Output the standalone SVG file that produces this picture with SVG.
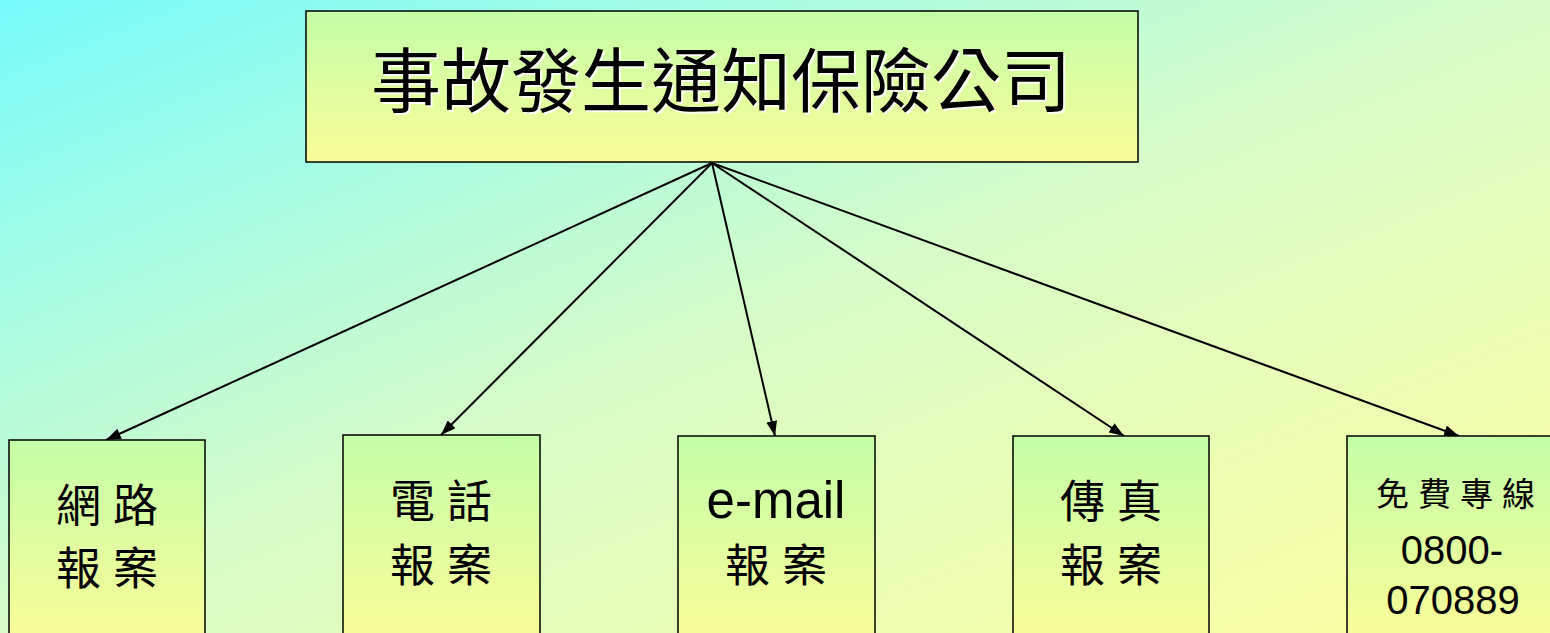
<svg xmlns="http://www.w3.org/2000/svg" width="1550" height="633" viewBox="0 0 1550 633">
<defs>
<linearGradient id="bg" x1="0" y1="0" x2="1" y2="1">
<stop offset="0" stop-color="#78fcfc"/>
<stop offset="0.5" stop-color="#d8fcc8"/>
<stop offset="1" stop-color="#ffffa0"/>
</linearGradient>
<linearGradient id="box" x1="0" y1="0" x2="0" y2="1">
<stop offset="0" stop-color="#c4ffa8"/>
<stop offset="1" stop-color="#fafc98"/>
</linearGradient>
<marker id="ah" markerWidth="15" markerHeight="11" refX="15" refY="5.5" orient="auto" markerUnits="userSpaceOnUse">
<path d="M0,0 L15,5.5 L0,11 Z" fill="#000"/>
</marker>
<style>
.node{fill:url(#box);stroke:#000;stroke-width:1.5}
.cjk{font-family:"Noto Sans CJK TC","Noto Sans CJK SC",sans-serif;fill:#000;text-anchor:middle}
.lat{font-family:"Liberation Sans",Arial,sans-serif;fill:#000;text-anchor:middle}
.conn{stroke:#000;stroke-width:2;fill:none;marker-end:url(#ah)}
</style>
</defs>
<rect width="1550" height="633" fill="url(#bg)"/>
<g id="connectors">
<line class="conn" x1="712" y1="163" x2="106" y2="440"/>
<line class="conn" x1="712" y1="163" x2="441" y2="435"/>
<line class="conn" x1="712" y1="163" x2="775" y2="436"/>
<line class="conn" x1="712" y1="163" x2="1124" y2="436"/>
<line class="conn" x1="712" y1="163" x2="1459" y2="436"/>
</g>
<g id="top">
<rect class="node" x="306" y="11" width="832" height="151"/>
<text class="cjk" x="723" y="109" font-size="70" style="fill:#ffffff" opacity="0.9">事故發生通知保險公司</text>
<text class="cjk" x="721" y="107" font-size="70">事故發生通知保險公司</text>
</g>
<g id="n1">
<rect class="node" x="9" y="440" width="196" height="200"/>
<text class="cjk" x="113" y="522" font-size="45" letter-spacing="12">網路</text>
<text class="cjk" x="113" y="585" font-size="45" letter-spacing="12">報案</text>
</g>
<g id="n2">
<rect class="node" x="343" y="435" width="197" height="205"/>
<text class="cjk" x="447" y="518" font-size="45" letter-spacing="12">電話</text>
<text class="cjk" x="447" y="582" font-size="45" letter-spacing="12">報案</text>
</g>
<g id="n3">
<rect class="node" x="678" y="436" width="197" height="204"/>
<text class="lat" x="776" y="518" font-size="51">e-mail</text>
<text class="cjk" x="782" y="582" font-size="45" letter-spacing="12">報案</text>
</g>
<g id="n4">
<rect class="node" x="1013" y="436" width="196" height="204"/>
<text class="cjk" x="1117" y="518" font-size="45" letter-spacing="12">傳真</text>
<text class="cjk" x="1117" y="582" font-size="45" letter-spacing="12">報案</text>
</g>
<g id="n5">
<rect class="node" x="1347" y="436" width="210" height="204"/>
<text class="cjk" x="1460" y="506" font-size="33" letter-spacing="9">免費專線</text>
<text class="lat" x="1452" y="564" font-size="40">0800-</text>
<text class="lat" x="1453" y="614" font-size="40">070889</text>
</g>
</svg>
